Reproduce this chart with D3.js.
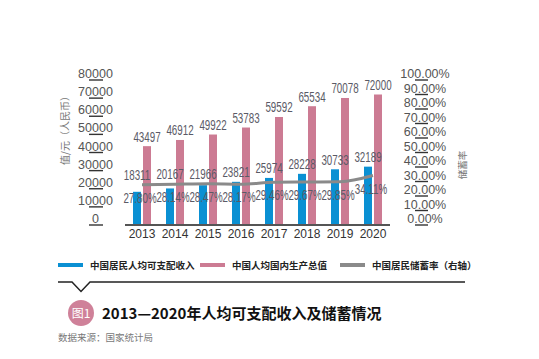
<!DOCTYPE html>
<html><head><meta charset="utf-8">
<script src="https://cdn.jsdelivr.net/npm/d3@7/dist/d3.min.js"></script>
<style>body{margin:0;background:#fff}svg{display:block}</style>
</head><body>
<script>
const years = ["2013","2014","2015","2016","2017","2018","2019","2020"];
const income = [18311,20167,21966,23821,25974,28228,30733,32189];
const gdp = [43497,46912,49922,53783,59592,65534,70078,72000];
const savingRate = [27.80,28.14,28.47,28.17,29.46,29.67,29.85,34.11];
const leftTicks = [0,10000,20000,30000,40000,50000,60000,70000,80000];
const rightTicks = [0,10,20,30,40,50,60,70,80,90,100];
const legendNames = ["中国居民人均可支配收入","中国人均国内生产总值","中国居民储蓄率（右轴）"];

const W=539,H=359;
const blue="#0a90d3", pink="#cc7b93", gray="#8a8a8a";
const numFont="'Liberation Sans', Arial, sans-serif";
const cjk="'Noto Sans CJK SC', sans-serif";

const svg=d3.select("body").append("svg").attr("width",W).attr("height",H);

const x=d3.scaleBand().domain(years).range([125.5,389.5]);
const xs=d3.scaleBand().domain(["income","gdp"]).range([-9,9]).paddingInner(0.2);
const yL=d3.scaleLinear().domain([0,80000]).range([225,80]);
const yR=d3.scaleLinear().domain([0,100]).range([225,80]);
const cx=d=>x(d)+x.bandwidth()/2;

// left axis
const gL=svg.append("g");
gL.selectAll("line").data(leftTicks).join("line")
 .attr("x1",89).attr("x2",103).attr("y1",d=>yL(d)).attr("y2",d=>yL(d))
 .attr("stroke","#333").attr("stroke-width",1.4);
gL.selectAll("text").data(leftTicks).join("text")
 .attr("x",95.5).attr("y",d=>yL(d)-2).attr("text-anchor","middle")
 .attr("font-family",numFont).attr("font-size",12.5).attr("fill","#555").text(d=>d);
svg.append("text").attr("transform","translate(69,128) rotate(-90)")
 .attr("text-anchor","middle").attr("font-family",cjk).attr("font-size",10)
 .attr("fill","#777").text("值/元（人民币）");

// right axis
const gR=svg.append("g");
gR.selectAll("line").data(rightTicks).join("line")
 .attr("x1",415).attr("x2",428).attr("y1",d=>yR(d)).attr("y2",d=>yR(d))
 .attr("stroke","#333").attr("stroke-width",1.4);
gR.selectAll("text").data(rightTicks).join("text")
 .attr("x",425).attr("y",d=>yR(d)-2).attr("text-anchor","middle")
 .attr("font-family",numFont).attr("font-size",12.5).attr("fill","#555").text(d=>d.toFixed(2)+"%");
svg.append("text").attr("transform","translate(466,165) rotate(-90)")
 .attr("text-anchor","middle").attr("font-family",cjk).attr("font-size",9.5)
 .attr("fill","#777").text("储蓄率");

// bars
svg.append("g").selectAll("rect").data(years).join("rect")
 .attr("x",(d)=>cx(d)+xs("income")).attr("width",xs.bandwidth())
 .attr("y",(d,i)=>yL(income[i])).attr("height",(d,i)=>yL(0)-yL(income[i])).attr("fill",blue);
svg.append("g").selectAll("rect").data(years).join("rect")
 .attr("x",(d)=>cx(d)+xs("gdp")).attr("width",xs.bandwidth())
 .attr("y",(d,i)=>yL(gdp[i])).attr("height",(d,i)=>yL(0)-yL(gdp[i])).attr("fill",pink);

// baseline
svg.append("line").attr("x1",125).attr("x2",390).attr("y1",225).attr("y2",225)
 .attr("stroke","#555").attr("stroke-width",2);

// line
const line=d3.line().x((d,i)=>cx(years[i])).y(d=>yR(d)).curve(d3.curveMonotoneX);
svg.append("path").datum(savingRate).attr("d",line).attr("fill","none")
 .attr("stroke",gray).attr("stroke-width",3);

// data labels (condensed)
function lab(g,xp,yp,t){
  g.append("text").attr("transform",`translate(${xp},${yp}) scale(0.7,1)`)
   .attr("text-anchor","middle").attr("font-family",numFont).attr("font-size",14)
   .attr("fill","#5a5a66").text(t);
}
const gLab=svg.append("g");
years.forEach((yr,i)=>{
  const c=cx(yr);
  lab(gLab,c+xs("gdp")+xs.bandwidth()/2,yL(gdp[i])-4.5,gdp[i]);
  lab(gLab,c+xs("income")+xs.bandwidth()/2,Math.min(yL(income[i])-4.5,yR(savingRate[i])-5),income[i]);
  lab(gLab,c-2,yR(savingRate[i])+18,savingRate[i].toFixed(2)+"%");
});

// year labels
svg.append("g").selectAll("text").data(years).join("text")
 .attr("x",d=>cx(d)).attr("y",238).attr("text-anchor","middle")
 .attr("font-family",numFont).attr("font-size",12).attr("fill","#333").text(d=>d);

// legend
const legX=[58,200,340], legC=[blue,pink,gray];
legendNames.forEach((n,i)=>{
  svg.append("rect").attr("x",legX[i]).attr("y",263).attr("width",25).attr("height",4).attr("fill",legC[i]);
  svg.append("text").attr("x",legX[i]+32).attr("y",268.5).attr("font-family",cjk)
   .attr("font-size",9.5).attr("font-weight","bold").attr("fill","#222").text(n);
});

// separator with notch
svg.append("path").attr("d","M58,282 H72 L81,291.5 L90,282 H465").attr("fill","none")
 .attr("stroke","#222").attr("stroke-width",1.5);

// badge + title
svg.append("circle").attr("cx",81).attr("cy",313).attr("r",13).attr("fill","#cf8199");
svg.append("text").attr("x",81).attr("y",317.5).attr("text-anchor","middle")
 .attr("font-family",cjk).attr("font-size",12).attr("fill","#fff").text("图1");
svg.append("text").attr("x",102).attr("y",319).attr("font-family",cjk)
 .attr("font-size",15).attr("font-weight","bold").attr("fill","#111").text("2013—2020年人均可支配收入及储蓄情况");
svg.append("text").attr("x",58).attr("y",341).attr("font-family",cjk)
 .attr("font-size",9.5).attr("fill","#777").text("数据来源：国家统计局");
</script>
</body></html>
